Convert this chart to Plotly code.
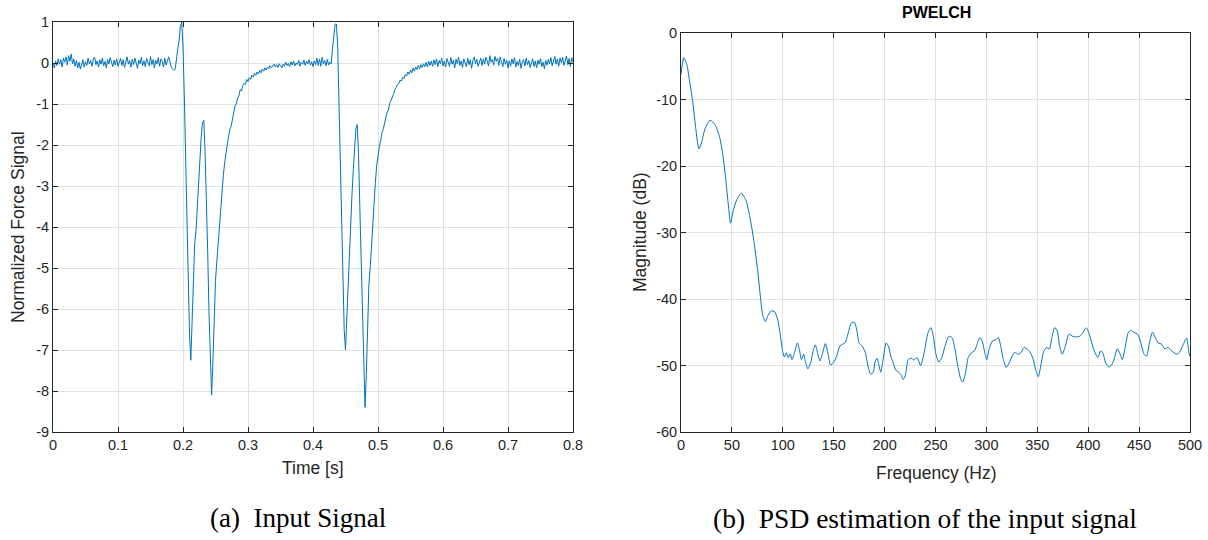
import plotly.graph_objects as go

# ---------------- data: (a) input signal, sampled every 2 ms ----------------
sample_step = 0.002
force_baseline_a = [
    0.00, -0.12, 0.05, -0.06, 0.10, -0.03, 0.08, -0.10, 0.12, 0.02,
    0.15, -0.05, 0.18, 0.04, 0.22, -0.02, 0.10, -0.08, 0.06, -0.12,
    0.02, -0.15, -0.05, 0.08, -0.10, 0.03, -0.06, 0.12, -0.02, 0.06,
    -0.08, 0.10, 0.14, -0.04, 0.05, -0.10, 0.08, -0.03, 0.12, -0.07,
    0.04, -0.12, 0.09, -0.02, 0.13, 0.01, -0.09, 0.07, -0.05, 0.10,
    -0.08, 0.02, 0.11, -0.06, 0.08, -0.11, 0.04, 0.15, -0.03, 0.06,
    -0.10, 0.09, -0.04, 0.12, 0.00, -0.13, 0.07, -0.02, 0.14, -0.06,
    0.05, -0.09, 0.11, 0.03, -0.07, 0.16, -0.04, 0.08, -0.12, 0.06,
    -0.02, 0.13, -0.08, 0.10, 0.04, -0.10, 0.12, -0.05, 0.07, 0.15,
    0.02, -0.10, -0.14, -0.18,
]
force_pulse_1 = [
    -0.15, 0.20, 0.35, 0.55, 0.90, 1.00, 0.40, -0.80, -2.30, -3.80,
    -5.20, -6.60, -7.25, -6.10, -5.00, -4.40, -4.10, -3.50, -2.90, -2.30,
    -1.80, -1.45, -1.40, -2.20, -3.20, -4.60, -6.10, -7.40, -8.10, -7.30,
    -6.20, -5.30, -4.85, -4.40, -4.00, -3.55, -3.10, -2.75, -2.45, -2.15,
    -2.00, -1.80, -1.62, -1.55, -1.35, -1.25, -1.05, -1.00, -0.85, -0.80,
    -0.65, -0.68, -0.55, -0.50, -0.52, -0.40, -0.45, -0.36, -0.40, -0.30,
    -0.34, -0.25, -0.30, -0.22, -0.27, -0.18, -0.24,
]
force_baseline_b = [
    -0.15, -0.20, -0.12, -0.17, -0.10, -0.14, -0.06, -0.12, -0.08, -0.03,
    -0.10, -0.04, -0.11, -0.02, -0.07, -0.12, -0.03, -0.08, 0.02, -0.06,
    -0.01, -0.09, 0.03, -0.05, 0.05, -0.07, 0.00, -0.04, 0.06, -0.08,
    0.02, -0.03, 0.07, -0.06, 0.04, -0.02, 0.08, -0.05, 0.03, -0.09,
    0.05, -0.04, 0.12, -0.06, 0.10, -0.08, 0.14, -0.02, 0.06, -0.07,
    0.09, -0.05, 0.02,
]
force_pulse_2 = [
    -0.02, 0.35, 0.75, 0.95, 0.95, 0.40, -1.00, -2.60, -4.20, -5.70,
    -6.50, -7.00, -6.20, -5.20, -4.40, -3.90, -3.20, -2.60, -2.00, -1.60,
    -1.50, -2.20, -3.50, -4.80, -6.00, -7.30, -8.40, -7.60, -6.40, -5.40,
    -5.00, -4.40, -3.80, -3.30, -2.90, -2.50, -2.20, -2.05, -1.90, -1.70,
    -1.62, -1.45, -1.35, -1.20, -1.15, -0.98, -0.92, -0.80, -0.75, -0.64,
    -0.60, -0.52, -0.50, -0.42, -0.44, -0.35, -0.38,
]
force_recovery_2 = [
    -0.28, -0.32, -0.22, -0.27, -0.17, -0.24, -0.12, -0.20, -0.10, -0.16,
    -0.06, -0.14, -0.04, -0.11, -0.02, -0.09, 0.02, -0.10, 0.04, -0.06,
    0.05, -0.08, 0.08, -0.04, 0.10, -0.09, 0.06, -0.02, 0.12, -0.07,
]
force_baseline_c = [
    0.04, -0.10, 0.11, 0.02, -0.08, 0.13, -0.03, 0.07, -0.12, 0.09,
    -0.02, 0.14, -0.06, 0.05, -0.11, 0.10, 0.01, -0.09, 0.12, -0.04,
    0.08, -0.13, 0.06, 0.15, -0.02, 0.09, -0.08, 0.03, 0.12, -0.06,
    0.10, -0.03, 0.14, 0.05, -0.07, 0.18, 0.02, 0.09, -0.05, 0.16,
    0.04, 0.12, -0.06, 0.15, 0.01, -0.09, 0.11, -0.03, 0.07, -0.12,
    0.05, -0.08, 0.10, -0.02, 0.13, -0.10, 0.04, -0.06, 0.09, -0.13,
    0.02, 0.08, -0.07, 0.12, -0.04, 0.06, -0.11, 0.03, 0.10, -0.08,
    0.05, -0.12, 0.07, -0.03, 0.11, -0.09, 0.02, -0.14, 0.06, -0.05,
    0.09, -0.02, 0.13, -0.07, 0.04, 0.16, -0.03, 0.10, -0.08, 0.12,
    0.01, 0.14, -0.06, 0.08, 0.17, -0.04, 0.11, -0.09, 0.13, 0.02,
]
force = (force_baseline_a + force_pulse_1 + force_baseline_b
         + force_pulse_2 + force_recovery_2 + force_baseline_c)
time_s = [round(i * sample_step, 4) for i in range(len(force))]

time_ticks = [0, 0.1, 0.2, 0.3, 0.4, 0.5, 0.6, 0.7, 0.8]
time_tick_labels = ["0", "0.1", "0.2", "0.3", "0.4", "0.5", "0.6", "0.7", "0.8"]
force_ticks = [1, 0, -1, -2, -3, -4, -5, -6, -7, -8, -9]
force_tick_labels = ["1", "0", "-1", "-2", "-3", "-4", "-5", "-6", "-7", "-8", "-9"]

# ---------------- data: (b) PWELCH estimate ----------------
freq_hz = [
    0, 2.7, 5.7, 8.4, 11.4, 14.4, 17.5, 19.8, 23.6, 28.5, 33.5, 38, 41, 43.7,
    46.4, 48.7, 51.3, 55, 59.3, 63.9, 67.7, 71.5, 75.3, 78.3, 80.2, 82.9, 85.6,
    88.6, 92, 95, 97.7, 99.6, 101.5, 103.4, 105.3, 107.2, 109, 111.4, 114.4,
    116.3, 118.3, 120.5, 122, 124.7, 127.4, 129.7, 131.9, 134.2, 136.5, 139.2,
    141.8, 144.5, 146.8, 149.8, 152.9, 155.9, 158.6, 161.2, 164.3, 167.3,
    170.3, 172.6, 174.9, 178, 181, 183.7, 186.3, 188.6, 190.9, 192.4, 193.9,
    196.2, 198.5, 201.5, 203.8, 206.1, 208.4, 211, 213.7, 216, 218.3, 220.5,
    223.2, 226.2, 228.9, 231.9, 235.4, 238.8, 242.6, 245.6, 247.9, 250.2,
    253.2, 256.3, 259.3, 263.1, 266.2, 269.2, 271.9, 274.9, 276.8, 279.5,
    282.1, 285.2, 288.2, 290.9, 293.5, 295.8, 298.5, 300.4, 303, 306.1, 309.5,
    311.8, 314.1, 316.7, 319.4, 322.4, 325.5, 328.1, 330.8, 333.8, 336.9,
    339.9, 343, 346, 348.7, 351, 353.6, 356.3, 359, 362, 364.3, 367, 369.6,
    371.9, 374.5, 377.6, 381, 384.8, 387.8, 391.6, 394.7, 398.1, 401.1, 403.8,
    406.8, 409.5, 412.2, 414.4, 417.1, 420.2, 423.2, 425.9, 428.5, 430.8,
    433.5, 436.5, 439.2, 441.8, 444.9, 448.7, 451.7, 454.8, 457.4, 460.1,
    463.1, 465.8, 468.8, 472.2, 475.3, 478.3, 481.4, 484.4, 487.5, 490.5,
    493.5, 496.6, 498.1, 499.6,
]
magnitude_db = [
    -6.2, -3.7, -4.7, -7.2, -10.2, -14.2, -17.4, -16.7, -14.4, -13.1, -13.8,
    -15.7, -18.2, -21.7, -25.7, -28.6, -26.7, -25.0, -24.1, -25.2, -27.7,
    -31.2, -35.7, -40.1, -42.4, -43.4, -42.4, -41.8, -41.9, -43.1, -45.6,
    -47.6, -48.7, -48.1, -48.8, -48.3, -49.1, -48.1, -46.6, -47.6, -49.1,
    -48.3, -49.3, -50.5, -49.6, -47.9, -46.9, -48.1, -49.3, -48.1, -46.7,
    -48.3, -49.9, -49.6, -48.6, -47.1, -46.8, -46.6, -45.1, -43.6, -43.5,
    -44.6, -46.6, -47.1, -48.0, -50.1, -51.3, -51.1, -49.3, -48.9, -49.6,
    -51.0, -49.1, -46.6, -47.1, -48.6, -49.6, -50.7, -51.0, -51.4, -52.1,
    -51.4, -49.1, -48.9, -49.2, -48.8, -50.0, -48.1, -45.1, -44.3, -45.6,
    -48.1, -49.5, -48.8, -47.1, -45.6, -45.8, -47.6, -50.1, -52.1, -52.5,
    -51.1, -48.8, -48.1, -47.8, -46.8, -45.8, -46.3, -48.1, -49.1, -47.3,
    -46.3, -46.1, -45.8, -47.1, -49.1, -50.3, -49.6, -48.5, -48.0, -48.3,
    -48.1, -47.3, -47.5, -48.0, -49.1, -50.8, -51.7, -49.9, -47.9, -47.3,
    -47.5, -45.8, -44.3, -44.8, -47.1, -48.3, -47.1, -45.3, -45.6, -45.7,
    -45.6, -45.1, -44.3, -45.3, -46.8, -48.1, -48.8, -47.8, -48.1, -49.6,
    -50.2, -49.9, -48.8, -47.5, -48.1, -49.1, -47.1, -45.1, -44.7, -45.0,
    -45.3, -46.6, -48.3, -48.6, -46.6, -45.0, -45.8, -46.6, -46.8, -47.5,
    -47.3, -47.7, -48.1, -48.3, -47.8, -46.8, -45.9, -47.1, -48.6,
]
freq_ticks = [0, 50, 100, 150, 200, 250, 300, 350, 400, 450, 500]
db_ticks = [0, -10, -20, -30, -40, -50, -60]
db_tick_labels = ["0", "-10", "-20", "-30", "-40", "-50", "-60"]

# ---------------- figure ----------------
W, H = 1208, 540
LINE = "#0072BD"
AX = "#262626"
GRID = "#e1e1e1"
SANS = "Liberation Sans, Arial, sans-serif"
SERIF = "Liberation Serif, Times New Roman, serif"

fig = go.Figure()
fig.add_trace(go.Scatter(x=time_s, y=force, mode="lines",
                         line=dict(color=LINE, width=1), xaxis="x", yaxis="y",
                         showlegend=False))
fig.add_trace(go.Scatter(x=freq_hz, y=magnitude_db, mode="lines",
                         line=dict(color=LINE, width=1, shape="spline", smoothing=0.6),
                         xaxis="x2", yaxis="y2", showlegend=False))

def px_x(p):
    return p / W

def px_y(p):
    return 1 - p / H

axis_common = dict(showline=True, linecolor=AX, linewidth=1, mirror="ticks",
                   ticks="inside", ticklen=5, tickcolor=AX, tickwidth=1,
                   showgrid=True, gridcolor=GRID, gridwidth=1, zeroline=False,
                   automargin=False,
                   tickfont=dict(family=SANS, size=14.5, color=AX))

fig.update_layout(
    width=W, height=H, margin=dict(l=0, r=0, t=0, b=0, pad=0),
    paper_bgcolor="white", plot_bgcolor="white",
    xaxis=dict(domain=[px_x(53), px_x(573)], range=[0, 0.8],
               tickvals=time_ticks, ticktext=time_tick_labels, anchor="y",
               **axis_common),
    yaxis=dict(domain=[px_y(432), px_y(22)], range=[-9, 1],
               tickvals=force_ticks, ticktext=force_tick_labels, anchor="x",
               **axis_common),
    xaxis2=dict(domain=[px_x(681), px_x(1190)], range=[0, 500],
                tickvals=freq_ticks, anchor="y2", **axis_common),
    yaxis2=dict(domain=[px_y(432), px_y(33)], range=[-60, 0],
                tickvals=db_ticks, ticktext=db_tick_labels, anchor="x2",
                **axis_common),
)

def label(text, x, y, size, angle=0, bold=False, font=SANS, color=AX):
    fig.add_annotation(text=f"<b>{text}</b>" if bold else text,
                       x=px_x(x), y=px_y(y), xref="paper", yref="paper",
                       showarrow=False, textangle=angle,
                       xanchor="center", yanchor="middle",
                       font=dict(family=font, size=size, color=color))

label("Time [s]", 313, 468, 17.5)
label("Normalized Force Signal", 18, 227, 17.5, angle=-90)
label("Frequency (Hz)", 936, 473, 17.5)
label("Magnitude (dB)", 640, 232, 17.5, angle=-90)
label("PWELCH", 936, 13, 16, bold=True, color="#000000")
label("(a)  Input Signal", 298, 518, 27, font=SERIF, color="#000000")
label("(b)  PSD estimation of the input signal", 925, 518, 27.5, font=SERIF,
      color="#000000")

fig.write_html("out.html")
